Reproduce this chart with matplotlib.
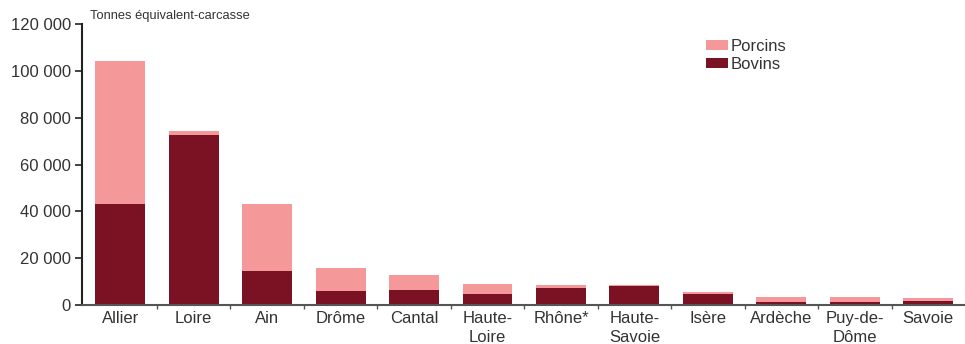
import numpy as np
import matplotlib
matplotlib.use("Agg")
import matplotlib.pyplot as plt
from matplotlib import font_manager
from matplotlib.ticker import FuncFormatter

departements = ["Allier", "Loire", "Ain", "Drôme", "Cantal", "Haute-\nLoire",
                "Rhône*", "Haute-\nSavoie", "Isère", "Ardèche", "Puy-de-\nDôme", "Savoie"]
bovins = [43100, 72600, 14500, 6000, 6400, 4700, 7300, 8100, 4700, 1300, 1300, 1700]
totaux = [104200, 74300, 43100, 15800, 12800, 9000, 8500, 8500, 5600, 3400, 3400, 3000]
porcins = [t - b for t, b in zip(totaux, bovins)]

names = {f.name for f in font_manager.fontManager.ttflist}
family = "Liberation Sans Narrow" if "Liberation Sans Narrow" in names else "Liberation Sans"
plt.rcParams["font.family"] = [family, "DejaVu Sans"]

c_porc = "#f4989a"
c_bov = "#7b1224"
txt = "#333333"

fig = plt.figure(figsize=(9.65, 3.44), dpi=100)
ax = fig.add_axes([0.085, 0.1134, 0.915, 0.8166])

x = np.arange(len(departements))
ax.bar(x, bovins, width=0.68, color=c_bov, label="Bovins")
ax.bar(x, porcins, width=0.68, bottom=bovins, color=c_porc, label="Porcins")

ax.set_xlim(-0.52, 11.5)
ax.set_ylim(0, 120000)
ax.set_yticks(np.arange(0, 120001, 20000))
ax.yaxis.set_major_formatter(FuncFormatter(lambda v, p: f"{int(v):,}".replace(",", " ")))
ax.tick_params(axis="y", labelsize=12, colors="#222222", length=5, width=1.2, labelcolor=txt, pad=3)

ax.set_xticks(x)
ax.set_xticklabels(departements, fontsize=12, color=txt, linespacing=1.4)
ax.set_xticks(np.arange(0.5, 11, 1), minor=True)
ax.tick_params(axis="x", which="major", length=0, pad=4)
ax.tick_params(axis="x", which="minor", length=3, width=1, colors="#555555")

for s in ["top", "right"]:
    ax.spines[s].set_visible(False)
ax.spines["left"].set_linewidth(1.5)
ax.spines["left"].set_color("#222222")
ax.spines["bottom"].set_linewidth(1.5)
ax.spines["bottom"].set_color("#555555")

fig.text(0.093, 0.935, "Tonnes équivalent-carcasse", fontsize=9.3, color=txt, va="bottom")

h, l = ax.get_legend_handles_labels()
ax.legend(h[::-1], l[::-1], loc="upper left", bbox_to_anchor=(0.69, 1.0), frameon=False,
          fontsize=12, handlelength=1.3, handleheight=0.55, handletextpad=0.15,
          labelspacing=0.15, labelcolor=txt)

fig.savefig("out.png", dpi=100)
plt.close(fig)
